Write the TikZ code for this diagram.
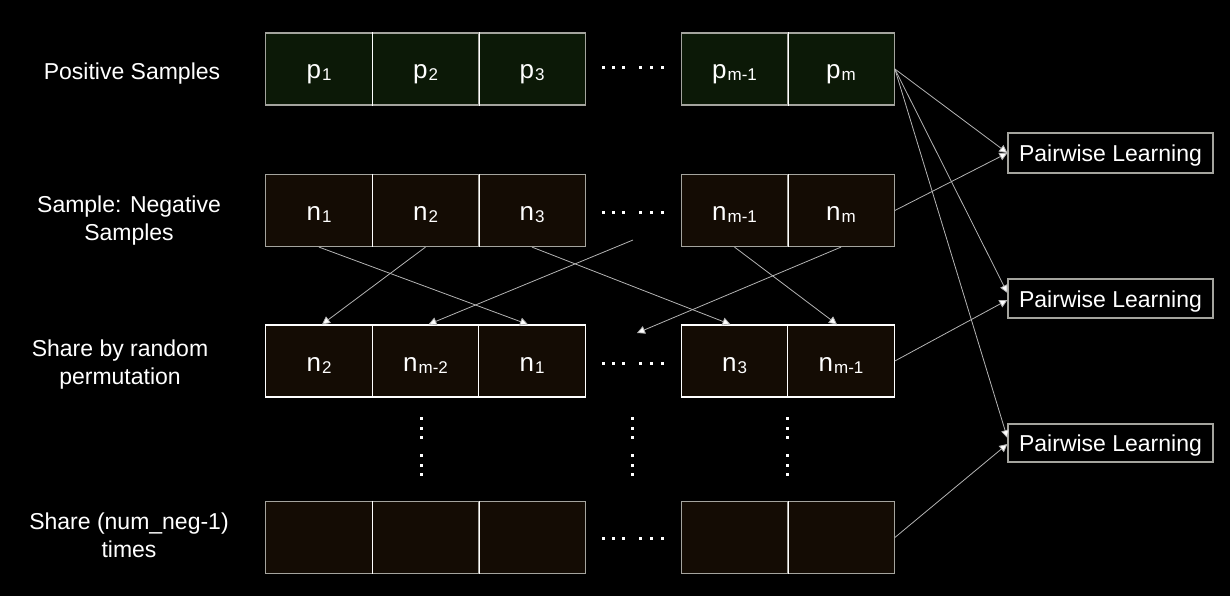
\documentclass[tikz,border=0pt]{standalone}
\usepackage{fontspec}
\setmainfont{Liberation Sans}
\usetikzlibrary{arrows.meta}
\definecolor{posfill}{HTML}{0C1907}
\definecolor{negfill}{HTML}{140C04}
\definecolor{edgegray}{HTML}{A4A49E}
\definecolor{conngray}{HTML}{B4B4B4}
\newcommand\sbs[1]{\kern1pt\raisebox{-2pt}{\fontsize{17}{17}\selectfont #1}}
\begin{document}
\begin{tikzpicture}[x=1pt,y=-1pt,
  cell/.style={minimum width=106.5pt, minimum height=72pt, inner sep=0pt,
    text=white, text height=20pt, text depth=0pt, font=\fontsize{26}{28}\selectfont, line width=1.2pt},
  poscell/.style={cell, fill=posfill, draw=edgegray},
  negcell/.style={cell, fill=negfill, draw=edgegray},
  wcell/.style={cell, fill=negfill, draw=white},
  lbl/.style={text=white, align=center, inner sep=0pt, font=\fontsize{23}{28}\selectfont},
  plbox/.style={draw=edgegray, line width=1.2pt, text=white, inner sep=0pt, minimum height=40pt,
    minimum width=205pt, text height=17.4pt, text depth=0pt, font=\fontsize{23}{28}\selectfont},
  conn/.style={draw=conngray, line width=0.8pt, -{Triangle[width=8pt,length=8pt,fill=white]}},
  hdot/.style={fill=white, minimum size=3pt, inner sep=0pt}
]
\useasboundingbox[fill=black] (0,0) rectangle (1230,596);

% left labels
\node[lbl] (lpos) at (132,73.3) {Positive Samples};
\node[lbl] (lneg) at (129,220.7) {Sample: Negative\\Samples};
\node[lbl] (lperm) at (120,365) {Share by random\\permutation};
\node[lbl] (ltimes) at (129,535.1) {Share (num\_neg-1)\\times};

% row 1
\node[poscell] (p1) at (319,69) {p\sbs{1}};
\node[poscell] (p2) at (425.5,69) {p\sbs{2}};
\node[poscell] (p3) at (532,69) {p\sbs{3}};
\node[poscell] (pm1) at (734.5,69) {p\sbs{m-1}};
\node[poscell] (pm) at (841,69) {p\sbs{m}};
% row 2
\node[negcell] (n1) at (319,210.5) {n\sbs{1}};
\node[negcell] (n2) at (425.5,210.5) {n\sbs{2}};
\node[negcell] (n3) at (532,210.5) {n\sbs{3}};
\node[negcell] (nm1) at (734.5,210.5) {n\sbs{m-1}};
\node[negcell] (nm) at (841,210.5) {n\sbs{m}};
% row 3
\node[wcell] (s1) at (319,361) {n\sbs{2}};
\node[wcell] (s2) at (425.5,361) {n\sbs{m-2}};
\node[wcell] (s3) at (532,361) {n\sbs{1}};
\node[wcell] (s4) at (734.5,361) {n\sbs{3}};
\node[wcell] (s5) at (841,361) {n\sbs{m-1}};
% row 4
\node[negcell] (t1) at (319,537.5) {};
\node[negcell] (t2) at (425.5,537.5) {};
\node[negcell] (t3) at (532,537.5) {};
\node[negcell] (t4) at (734.5,537.5) {};
\node[negcell] (t5) at (841,537.5) {};

% white inner dividers
\foreach \a in {p1,p2,pm1,n1,n2,nm1,t1,t2,t4}
  \draw[white, line width=1.2pt] (\a.north east) -- (\a.south east);

% horizontal ellipses
\foreach \yy in {68,212,363,538}
  \foreach \xx in {603,613,623,640,651,662}
    \node[hdot] at (\xx,\yy) {};
% vertical ellipses
\foreach \xx in {421,632,787}
  \foreach \yy in {418,428,437,455,465,474}
    \node[hdot] at (\xx,\yy) {};

% pairwise boxes
\node[plbox] (pl1) at (1110.5,153) {Pairwise Learning};
\node[plbox, minimum height=39pt] (pl2) at (1110.5,298.5) {Pairwise Learning};
\node[plbox, minimum height=38pt] (pl3) at (1110.5,443) {Pairwise Learning};

% permutation arrows
\coordinate (dtop) at (633,240);
\coordinate (dbot) at (637,333);
\draw[conn] (n1.south) -- ([xshift=-4pt]s3.north);
\draw[conn] (n2.south) -- ([xshift=3pt]s1.north);
\draw[conn] (n3.south) -- ([xshift=-4pt]s4.north);
\draw[conn] (dtop) -- ([xshift=3pt]s2.north);
\draw[conn] (nm1.south) -- ([xshift=-4pt]s5.north);
\draw[conn] (nm.south) -- (dbot);

% to pairwise learning
\draw[conn] (pm.east) -- (pl1.west);
\draw[conn] (pm.east) -- ([yshift=5.5pt]pl2.west);
\draw[conn] (pm.east) -- ([yshift=5pt]pl3.west);
\draw[conn] (nm.east) -- (pl1.west);
\draw[conn] (s5.east) -- ([yshift=-1.5pt]pl2.west);
\draw[conn] (t5.east) -- ([yshift=-1pt]pl3.west);
\end{tikzpicture}
\end{document}
